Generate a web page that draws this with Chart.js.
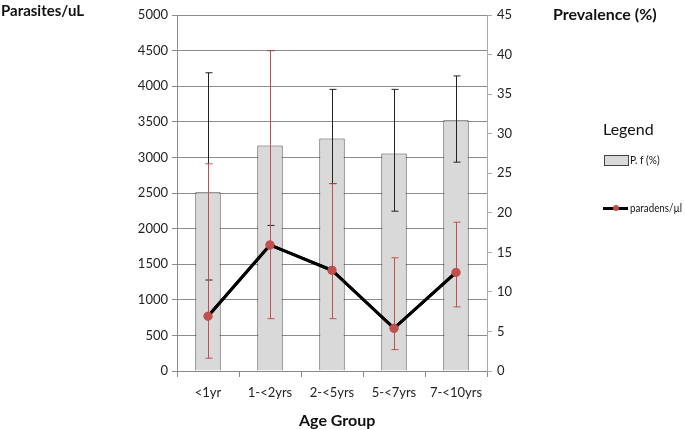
<!DOCTYPE html>
<html>
<head>
<meta charset="utf-8">
<script src="https://cdn.jsdelivr.net/npm/chart.js@4.4.0/dist/chart.umd.min.js"></script>
<style>
  body { margin: 0; background: #fff; }
  #wrap { position: relative; width: 685px; height: 430px; font-family: Lato, "Open Sans", Arial, sans-serif; color: #111; }
  #c { position: absolute; left: 0; top: 0; }
  .lbl { position: absolute; white-space: nowrap; }
  .bold { font-weight: bold; }
  .narrow { transform: scaleX(0.85); transform-origin: left center; }
</style>
</head>
<body>
<div id="wrap">
  <canvas id="c" width="685" height="430"></canvas>
  <div class="lbl bold" style="left:1px;top:1px;font-size:15px;">Parasites/uL</div>
  <div class="lbl bold" style="left:553px;top:4px;font-size:16px;">Prevalence (%)</div>
  <div class="lbl bold" style="left:299px;top:410px;font-size:16px;">Age Group</div>
  <div class="lbl" style="left:603px;top:119px;font-size:16px;">Legend</div>
  <div class="lbl" style="left:604px;top:155px;width:23px;height:9px;background:#d9d9d9;border:1px solid #444;"></div>
  <div class="lbl narrow" style="left:630px;top:152px;font-size:12px;">P. f (%)</div>
  <div class="lbl" style="left:603px;top:207px;width:25px;height:3px;background:#000;"></div>
  <div class="lbl" style="left:613px;top:205px;width:6px;height:6px;border-radius:3px;background:#c0504d;"></div>
  <div class="lbl narrow" style="left:630px;top:201px;font-size:11.5px;">paradens/µl</div>
</div>
<script>
'use strict';

const ageGroups = ['<1yr', '1-<2yrs', '2-<5yrs', '5-<7yrs', '7-<10yrs'];

// prevalence of P. f (%) - right axis
const prevalence = [22.6, 28.5, 29.4, 27.5, 31.7];
const prevLow = [11.5, 18.4, 23.7, 20.2, 26.4];
const prevHigh = [37.7, 40.5, 35.6, 35.6, 37.3];

// parasite density (parasites/uL) - left axis
const paradens = [770, 1770, 1415, 600, 1385];
const densLow = [180, 735, 735, 300, 900];
const densHigh = [2910, 4500, 2630, 1590, 2090];

const errorBars = {
  id: 'errorBars',
  afterDatasetsDraw(chart) {
    const ctx = chart.ctx;
    const x = chart.scales.x;
    const yL = chart.scales.y;
    const yR = chart.scales.y1;
    function drawBar(i, lo, hi, scale, color) {
      const px = Math.round(x.getPixelForValue(i)) + 0.5;
      const top = scale.getPixelForValue(hi);
      const bot = scale.getPixelForValue(lo);
      ctx.strokeStyle = color;
      ctx.lineWidth = 1;
      ctx.beginPath();
      ctx.moveTo(px, top); ctx.lineTo(px, bot);
      ctx.moveTo(px - 3, top); ctx.lineTo(px + 4, top);
      ctx.moveTo(px - 3, bot); ctx.lineTo(px + 4, bot);
      ctx.stroke();
    }
    ctx.save();
    for (let i = 0; i < ageGroups.length; i++) {
      drawBar(i, prevLow[i], prevHigh[i], yR, '#222');
    }
    for (let i = 0; i < ageGroups.length; i++) {
      drawBar(i, densLow[i], densHigh[i], yL, '#c0504d');
    }
    ctx.restore();
    // line goes back on top of the error bars
    chart.getDatasetMeta(1).controller.draw();
  }
};

Chart.defaults.font.family = 'Lato, "Open Sans", Arial, sans-serif';
Chart.defaults.font.size = 13;
Chart.defaults.color = '#222';

const chart = new Chart(document.getElementById('c'), {
  type: 'bar',
  data: {
    labels: ageGroups,
    datasets: [
      {
        label: 'P. f (%)',
        data: prevalence,
        yAxisID: 'y1',
        backgroundColor: '#d9d9d9',
        borderColor: '#444',
        borderWidth: 1,
        barPercentage: 0.82,
        categoryPercentage: 0.5,
        order: 2
      },
      {
        label: 'paradens/µl',
        type: 'line',
        data: paradens,
        yAxisID: 'y',
        borderColor: '#000',
        borderWidth: 3,
        pointBackgroundColor: '#c0504d',
        pointBorderColor: '#c0504d',
        pointRadius: 3,
        order: 1
      }
    ]
  },
  options: {
    responsive: false,
    animation: false,
    layout: { padding: { left: 120, right: 158, top: 15, bottom: 24 } },
    plugins: { legend: { display: false }, tooltip: { enabled: false } },
    scales: {
      x: {
        grid: { display: true, drawOnChartArea: false, offset: true, tickLength: 6, color: '#888' },
        border: { color: '#888' },
        ticks: { padding: 8 },
        afterFit(s) { s.height = 35; }
      },
      y: {
        position: 'left',
        min: 0, max: 5000,
        ticks: { stepSize: 500, padding: 4, callback: v => String(v) },
        grid: { color: '#8c8c8c', tickLength: 5 },
        border: { color: '#8c8c8c' },
        afterFit(s) { s.width = 57; }
      },
      y1: {
        position: 'right',
        min: 0, max: 45,
        ticks: { stepSize: 5, padding: 5, callback: v => String(v) },
        grid: { drawOnChartArea: false, color: '#aaa', tickLength: 5 },
        border: { color: '#aaa' },
        afterFit(s) { s.width = 40; }
      }
    }
  },
  plugins: [errorBars]
});
</script>
</body>
</html>
